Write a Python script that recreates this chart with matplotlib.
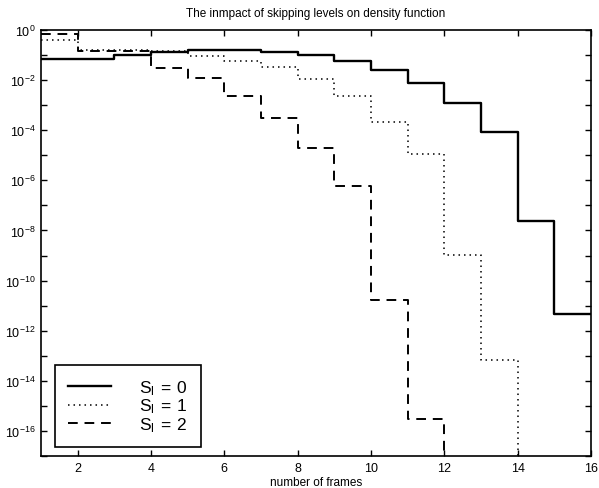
"""Step plot of frame-count density for several skipping levels."""

import matplotlib

matplotlib.use("Agg")
import matplotlib.pyplot as plt
import numpy as np
from matplotlib.ticker import FixedLocator, FuncFormatter, NullLocator

plt.rcParams["font.family"] = ["Liberation Sans", "DejaVu Sans"]
plt.rcParams["mathtext.fontset"] = "custom"
plt.rcParams["mathtext.rm"] = "Liberation Sans"

# bin edges: number of frames 1..16
frames = np.arange(1, 17)

# density per bin [k, k+1), k = 1..15 (0 = no mass)
level0 = [0.072, 0.072, 0.1, 0.136, 0.164, 0.164, 0.136, 0.1, 0.06, 0.026,
          7.8e-3, 1.24e-3, 8.9e-5, 2.5e-8, 4.5e-12]
level1 = [0.41, 0.155, 0.155, 0.15, 0.095, 0.06, 0.033, 0.011, 2.3e-3,
          2.2e-4, 1.1e-5, 1.1e-9, 6.6e-14, 0, 0]
level2 = [0.69, 0.14, 0.14, 0.03, 0.0126, 2.4e-3, 3.2e-4, 1.9e-5, 5.9e-7,
          1.7e-11, 2.9e-16, 0, 0, 0, 0]
labels = [r"$\mathregular{S_l\,=\,0}$", r"$\mathregular{S_l\,=\,1}$",
          r"$\mathregular{S_l\,=\,2}$"]

fig = plt.figure(figsize=(5.99, 4.89), dpi=100)
ax = fig.add_axes([0.0684, 0.0654, 0.9182, 0.8712])
ax.set_yscale("log", nonpositive="clip")

styles = [
    dict(color="black", lw=1.7, linestyle="-"),
    dict(color="black", lw=1.1, linestyle=(0, (1, 2.6))),
    dict(color="black", lw=1.4, linestyle=(0, (5, 3.5))),
]
for vals, lab, st in zip([level0, level1, level2], labels, styles):
    ax.step(frames, list(vals) + [vals[-1]], where="post", label=lab, **st)

ax.set_xlim(1, 16)
ax.set_ylim(1e-17, 1)
ax.set_xticks(np.arange(2, 17, 2))

decades = [10.0 ** e for e in range(-17, 1)]
ax.yaxis.set_major_locator(FixedLocator(decades))
ax.yaxis.set_minor_locator(NullLocator())
ax.yaxis.set_major_formatter(FuncFormatter(
    lambda v, _: r"$\mathregular{10^{%d}}$" % round(np.log10(v))
    if round(np.log10(v)) % 2 == 0 else ""))

ax.tick_params(direction="in", top=True, right=True, length=4, width=1,
               labelsize=9, pad=4)
for side in ax.spines.values():
    side.set_linewidth(1.2)

ax.set_title("The inmpact of skipping levels on density function",
             fontsize=8.5, pad=10)
ax.set_xlabel("number of frames", fontsize=8.5, labelpad=2)

leg = ax.legend(loc="lower left", bbox_to_anchor=(0.0255, 0.021),
                borderaxespad=0, fontsize=12.5, handlelength=2.5,
                handletextpad=1.6, labelspacing=0.0, borderpad=0.75,
                fancybox=False, framealpha=1, edgecolor="black")
leg.get_frame().set_linewidth(1.2)

fig.savefig("out.png", dpi=100)
